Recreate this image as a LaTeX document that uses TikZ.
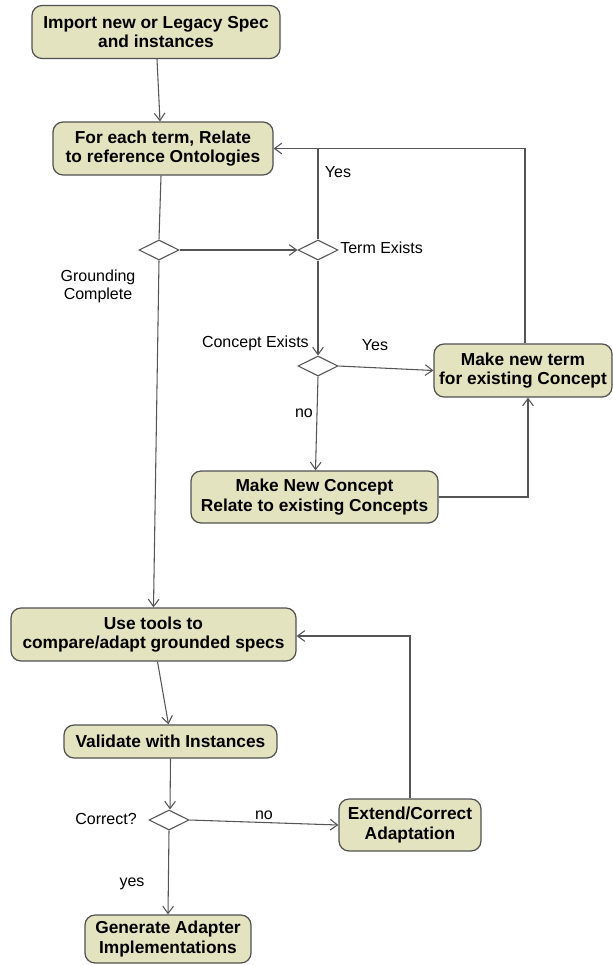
\documentclass[tikz,border=0pt]{standalone}
\usepackage{fontspec}
\setmainfont{Liberation Sans}
\usetikzlibrary{shapes.geometric,arrows.meta,calc}
\definecolor{boxfill}{RGB}{227,227,192}
\definecolor{boxline}{RGB}{80,80,80}
\definecolor{wire}{RGB}{85,85,85}
\begin{document}
\begin{tikzpicture}[x=0.75pt,y=-0.75pt,
  act/.style={draw=boxline,fill=boxfill,rounded corners=7.5pt,line width=0.9pt,
    align=center,inner sep=2pt,font=\fontsize{13}{14.6}\selectfont\bfseries},
  dec/.style={draw=wire,fill=white,diamond,aspect=2,minimum width=30pt,minimum height=15pt,inner sep=0pt,line width=0.8pt},
  flow/.style={draw=wire,line width=0.8pt,-{Straight Barb[length=5.5pt,width=8pt]}},
  plain/.style={draw=wire,line width=0.8pt},
  lab/.style={font=\fontsize{12}{13.5}\selectfont,inner sep=0pt,align=center}]
\useasboundingbox (0,0) rectangle (613,965);

\node[act,minimum width=186pt,minimum height=39.75pt] (imp) at (156,32) {Import new or Legacy Spec\\and instances};
\node[act,minimum width=165pt,minimum height=39.75pt] (term) at (163,148.5) {For each term, Relate\\to reference Ontologies};
\node[dec] (d1) at (159,250) {};
\node[dec] (d2) at (318,250) {};
\node[dec] (d3) at (318,366) {};
\node[act,minimum width=133.5pt,minimum height=39.75pt,inner sep=1pt] (mnt) at (523,370.5) {Make new term\\for existing Concept};
\node[act,minimum width=185.25pt,minimum height=39pt] (mnc) at (314.5,497) {Make New Concept\\Relate to existing Concepts};
\node[act,minimum width=213.75pt,minimum height=39.75pt] (use) at (153.5,634.5) {Use tools to\\compare/adapt grounded specs};
\node[act,minimum width=159.75pt,minimum height=24.75pt] (val) at (170.5,741.5) {Validate with Instances};
\node[dec] (d4) at (169,820) {};
\node[act,minimum width=106.5pt,minimum height=39pt] (ext) at (410,825) {Extend/Correct\\Adaptation};
\node[act,minimum width=124.5pt,minimum height=36pt] (gen) at (168,939) {Generate Adapter\\Implementations};

\node[lab] (lground) at (98,286) {Grounding\\Complete};
\node[lab] (lyes1) at (338,172) {Yes};
\node[lab,anchor=west] (lterm) at (340,248) {Term Exists};
\node[lab,anchor=east] (lconc) at (309,343) {Concept Exists};
\node[lab] (lyes2) at (375,345) {Yes};
\node[lab] (lno1) at (304,413) {no};
\node[lab,anchor=east] (lcorr) at (137,819) {Correct?};
\node[lab] (lno2) at (264,815) {no};
\node[lab] (lyes3) at (132,884) {yes};

\draw[flow] ($(imp.south)+(1,0)$) -- ($(term.north)+(-3,0)$);
\draw[plain] ($(term.south)+(-2,0)$) -- (d1.north);
\draw[flow] (d1.east) -- (d2.west);
\draw[flow] (d2.north) |- (term.east);
\draw[flow] (d2.south) -- (d3.north);
\draw[flow] (d3.east) -- (mnt.west);
\draw[flow] (d3.south) -- ($(mnc.north)+(1,0)$);
\draw[flow] (mnc.east) -| ($(mnt.south)+(5,0)$);
\draw[plain] ($(mnt.north)+(2,0)$) |- (term.east);
\draw[flow] (d1.south) -- (use.north);
\draw[flow] ($(use.south)+(4,0)$) -- ($(val.north)+(-2,0)$);
\draw[flow] (val.south) -- ($(d4.north)+(1,0)$);
\draw[flow] (d4.east) -- (ext.west);
\draw[flow] (ext.north) |- ($(use.east)+(0,1.5)$);
\draw[flow] (d4.south) -- (gen.north);
\end{tikzpicture}
\end{document}
